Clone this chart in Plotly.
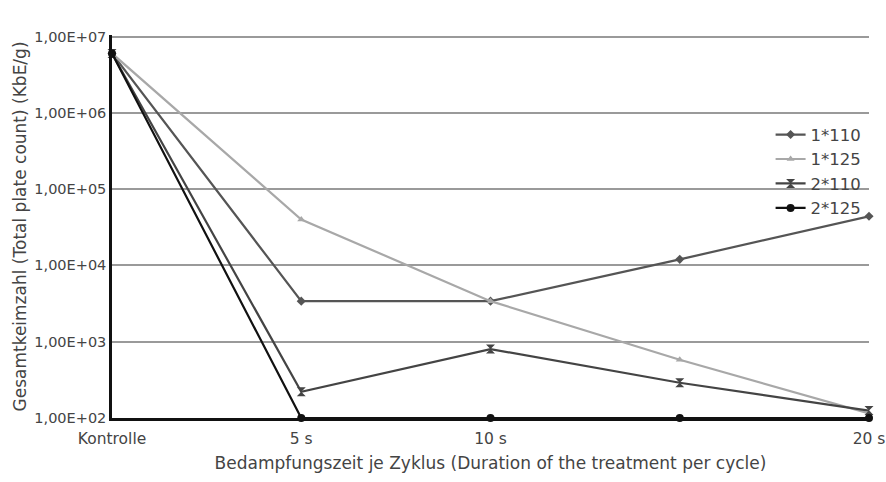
import plotly.graph_objects as go

categories = ["Kontrolle", "5 s", "10 s", "15 s", "20 s"]
tick_labels_x = ["Kontrolle", "5 s", "10 s", "", "20 s"]
x_pos = [0, 1, 2, 3, 4]

s_1x110 = [6.0e6, 3.4e3, 3.4e3, 1.2e4, 4.4e4]
s_1x125 = [6.0e6, 4.0e4, 3.4e3, 5.8e2, 1.15e2]
s_2x110 = [6.0e6, 2.2e2, 8.0e2, 2.9e2, 1.25e2]
s_2x125 = [6.0e6, 1.0e2, 1.0e2, 1.0e2, 1.0e2]

y_tickvals = [1e2, 1e3, 1e4, 1e5, 1e6, 1e7]
y_ticktext = ["1,00E+02", "1,00E+03", "1,00E+04", "1,00E+05", "1,00E+06", "1,00E+07"]

series = [
    ("1*110", s_1x110, "#555555", "diamond", 7),
    ("1*125", s_1x125, "#a8a8a8", "triangle-up", 7),
    ("2*110", s_2x110, "#444444", "hourglass", 9),
    ("2*125", s_2x125, "#111111", "circle", 8),
]

fig = go.Figure()
for name, vals, col, sym, sz in series:
    fig.add_trace(go.Scatter(
        x=x_pos, y=vals, name=name, mode="lines+markers",
        line=dict(color=col, width=2.2),
        marker=dict(symbol=sym, size=sz, color=col),
        cliponaxis=False,
    ))

font_fam = "DejaVu Sans, Liberation Sans, sans-serif"
fig.update_layout(
    width=886, height=482,
    margin=dict(l=112, r=17, t=35, b=64, autoexpand=False),
    paper_bgcolor="white", plot_bgcolor="white",
    font=dict(family=font_fam, size=15, color="#444444"),
    showlegend=True,
    legend=dict(x=0.87, y=0.785, xanchor="left", yanchor="top",
                bgcolor="rgba(0,0,0,0)", font=dict(size=16.5, color="#444444"),
                itemwidth=30, tracegroupgap=0),
)
fig.update_xaxes(
    type="linear", range=[0, 4], tickvals=x_pos, ticktext=tick_labels_x,
    showgrid=False, zeroline=False, automargin=False,
    showline=True, linecolor="#111111", linewidth=2.5,
    ticks="", ticklabelstandoff=5, ticklabeloverflow="allow",
    tickfont=dict(size=15.5, color="#444444"),
    title=dict(text="Bedampfungszeit je Zyklus (Duration of the treatment per cycle)",
               font=dict(size=17, color="#444444"), standoff=10),
)
fig.update_yaxes(
    type="log", range=[2, 7.02], tickvals=y_tickvals, ticktext=y_ticktext,
    showgrid=True, gridcolor="#9a9a9a", gridwidth=1.5, automargin=False,
    zeroline=False, showline=True, linecolor="#111111", linewidth=2.5,
    ticks="", tickfont=dict(size=14.5, color="#444444"),
    title=dict(text="Gesamtkeimzahl (Total plate count) (KbE/g)",
               font=dict(size=17, color="#444444"), standoff=4),
)

fig.write_html("out.html")
